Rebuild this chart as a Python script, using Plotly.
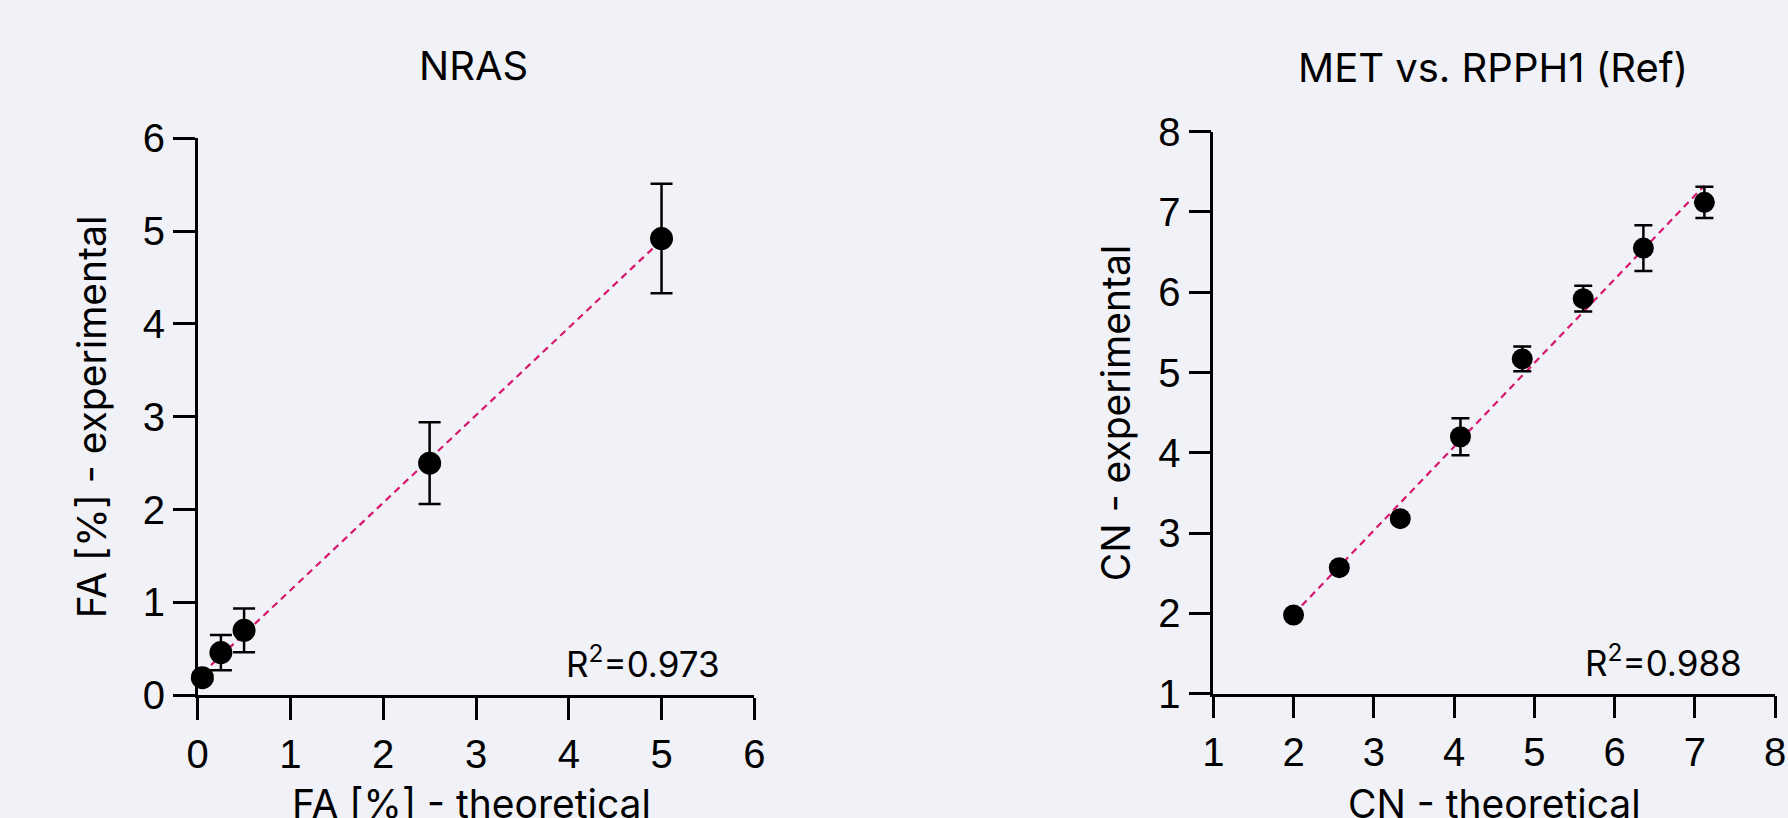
import numpy as np
import plotly.graph_objects as go

# ---------------- data ----------------
nras_theoretical = [0.05, 0.25, 0.5, 2.5, 5.0]
nras_experimental = [0.19, 0.46, 0.70, 2.50, 4.92]
nras_error = [0.03, 0.19, 0.235, 0.44, 0.59]
nras_r2 = "0.973"

met_theoretical = [2.0, 2.57, 3.33, 4.08, 4.85, 5.61, 6.36, 7.12]
met_experimental = [1.98, 2.57, 3.18, 4.20, 5.17, 5.92, 6.55, 7.12]
met_error = [0.03, 0.03, 0.03, 0.23, 0.155, 0.16, 0.285, 0.195]
met_r2 = "0.988"

nras_ticks = [0, 1, 2, 3, 4, 5, 6]
met_ticks = [1, 2, 3, 4, 5, 6, 7, 8]

titles = ["NRAS", "MET vs. RPPH1 (Ref)"]
x_titles = ["FA [%] - theoretical", "CN - theoretical"]
y_titles = ["FA [%] - experimental", "CN - experimental"]

# ---------------- layout constants ----------------
W, H = 1788, 818
BG = "#f1f2f7"
LINE_COLOR = "#d6176f"
TICK_FONT = dict(family="Liberation Sans, Arial, sans-serif", size=40, color="#000000")
TEXT_FAMILY = "Inter, Lato, sans-serif"


def px_x(p):
    return p / W


def px_y(p):
    return 1 - p / H


fig = go.Figure()


def add_panel(xs, ys, errs, xaxis, yaxis, marker_size, cap_w):
    fit = np.polyfit(xs, ys, 1)
    fx = np.array([min(xs), max(xs)])
    fy = np.polyval(fit, fx)
    fig.add_trace(go.Scatter(
        x=fx, y=fy, mode="lines", xaxis=xaxis, yaxis=yaxis,
        line=dict(color=LINE_COLOR, width=2.2, dash="7px,5px"),
        showlegend=False, hoverinfo="skip", cliponaxis=False))
    fig.add_trace(go.Scatter(
        x=xs, y=ys, mode="markers", xaxis=xaxis, yaxis=yaxis,
        marker=dict(color="#000000", size=marker_size),
        error_y=dict(type="data", array=errs, visible=True, color="#000000",
                     thickness=2.5, width=cap_w),
        showlegend=False, cliponaxis=False))


add_panel(nras_theoretical, nras_experimental, nras_error, "x", "y", 23, 11)
add_panel(met_theoretical, met_experimental, met_error, "x2", "y2", 21, 9)

axis_common = dict(
    showline=True, linecolor="#000000", linewidth=2.5,
    ticks="outside", ticklen=22, tickwidth=2.5, tickcolor="#000000",
    showgrid=False, zeroline=False, tickfont=TICK_FONT, fixedrange=True,
)

fig.update_layout(
    width=W, height=H, autosize=False,
    margin=dict(l=0, r=0, t=0, b=0, pad=0, autoexpand=False),
    paper_bgcolor=BG, plot_bgcolor=BG,
    xaxis=dict(domain=[px_x(197.7), px_x(754.3)], range=[0, 6], tickvals=nras_ticks,
               anchor="y", **axis_common),
    yaxis=dict(domain=[px_y(695.3), px_y(138.3)], range=[0, 6], tickvals=nras_ticks,
               anchor="x", **axis_common),
    xaxis2=dict(domain=[px_x(1213.3), px_x(1775.0)], range=[1, 8], tickvals=met_ticks,
                anchor="y2", **axis_common),
    yaxis2=dict(domain=[px_y(693.7), px_y(131.7)], range=[1, 8], tickvals=met_ticks,
                anchor="x2", **axis_common),
)

annotations = []
# titles
for text, cx, cy in [(titles[0], 473.7, 65.5), (titles[1], 1493.0, 67.0)]:
    annotations.append(dict(text=text, x=px_x(cx), y=px_y(cy), xref="paper", yref="paper",
                            xanchor="center", yanchor="middle", showarrow=False,
                            font=dict(family=TEXT_FAMILY, size=40, color="#000000")))
# x titles
for text, cx, cy in [(x_titles[0], 471.7, 803.0), (x_titles[1], 1494.0, 803.0)]:
    annotations.append(dict(text=text, x=px_x(cx), y=px_y(cy), xref="paper", yref="paper",
                            xanchor="center", yanchor="middle", showarrow=False,
                            font=dict(family=TEXT_FAMILY, size=39, color="#000000")))
# y titles
for text, cx, cy in [(y_titles[0], 91.5, 416.8), (y_titles[1], 1115.5, 412.7)]:
    annotations.append(dict(text=text, x=px_x(cx), y=px_y(cy), xref="paper", yref="paper",
                            xanchor="center", yanchor="middle", textangle=-90, showarrow=False,
                            font=dict(family=TEXT_FAMILY, size=39, color="#000000")))
# R^2 labels
for r2, rx, by in [(nras_r2, 721.7, 661.0), (met_r2, 1744.0, 660.5)]:
    annotations.append(dict(text="R<sup>2</sup>=" + r2, x=px_x(rx), y=px_y(by), xref="paper",
                            yref="paper", xanchor="right", yanchor="middle", showarrow=False,
                            font=dict(family=TEXT_FAMILY, size=35, color="#000000")))

fig.update_layout(annotations=annotations)

fig.write_html(
    "out.html",
    config={"displayModeBar": False},
    post_script="document.body.style.margin='0';document.body.style.overflow='hidden';",
)
